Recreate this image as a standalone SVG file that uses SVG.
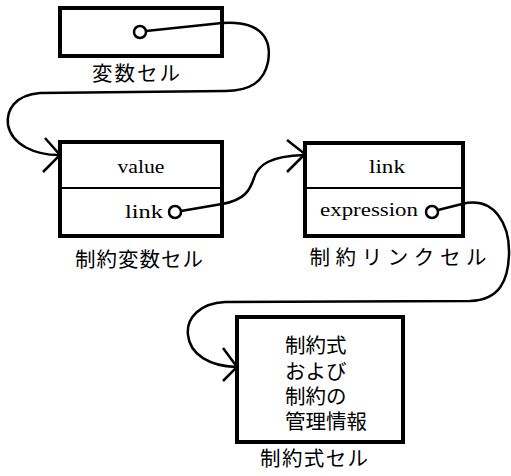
<svg xmlns="http://www.w3.org/2000/svg" width="511" height="476" viewBox="0 0 511 476">
<style>
.box{fill:#fff;stroke:#000;stroke-width:4}
.div{stroke:#000;stroke-width:2}
.lat{font-family:"Liberation Serif",serif;font-size:19.5px;fill:#000}
.jp{font-family:"Noto Sans CJK JP",sans-serif;font-size:20.5px;fill:#000}
.con{fill:none;stroke:#000;stroke-width:2.5}
.dot{fill:#fff;stroke:#000;stroke-width:2.5}
</style>
<rect width="511" height="476" fill="#fff"/>
<g id="var-cell">
<rect class="box" x="60" y="8" width="162" height="48"/>
<text class="jp" x="136" y="81" text-anchor="middle" textLength="88" lengthAdjust="spacing">変数セル</text>
</g>
<g id="constraint-var-cell">
<rect class="box" x="60" y="142" width="162" height="94"/>
<line class="div" x1="60" y1="188" x2="222" y2="188"/>
<text class="lat" x="141" y="173" text-anchor="middle" textLength="47" lengthAdjust="spacingAndGlyphs">value</text>
<text class="lat" x="125" y="218" textLength="38" lengthAdjust="spacingAndGlyphs">link</text>
<text class="jp" x="139" y="267" text-anchor="middle" textLength="128" lengthAdjust="spacing">制約変数セル</text>
</g>
<g id="constraint-link-cell">
<rect class="box" x="305" y="143" width="158" height="93"/>
<line class="div" x1="305" y1="188" x2="463" y2="188"/>
<text class="lat" x="387" y="173" text-anchor="middle" textLength="36" lengthAdjust="spacingAndGlyphs">link</text>
<text class="lat" x="320" y="216" textLength="98" lengthAdjust="spacingAndGlyphs">expression</text>
<text class="jp" x="398" y="265" text-anchor="middle" textLength="177" lengthAdjust="spacing">制約リンクセル</text>
</g>
<g id="constraint-expr-cell">
<rect class="box" x="237" y="317" width="166" height="125"/>
<text class="jp"><tspan x="285" y="353">制約式</tspan><tspan x="285" y="379">および</tspan><tspan x="285" y="404">制約の</tspan><tspan x="285" y="429">管理情報</tspan></text>
<text class="jp" x="314" y="466" text-anchor="middle" textLength="108" lengthAdjust="spacing">制約式セル</text>
</g>
<g id="connectors">
<path class="con" d="M146,31 L222,23 C262,20 272,40 268,62 C264,82 250,91 225,91 L40,93 C15,95 6,110 8,125 C12,145 35,155 59,155"/>
<polyline class="con" points="45,138 60,155 43,172" stroke-width="3.5"/>
<path class="con" d="M181,211 L222,204 C245,200 250,190 254,178 C258,165 270,156 304,155"/>
<polyline class="con" points="287,140 305,154 287,172" stroke-width="3.5"/>
<path class="con" d="M438,210 L462,204 C495,196 510,225 509,255 C508,280 500,300 470,301 L225,302 C200,303 186,318 188,335 C190,355 210,366 236,367"/>
<polyline class="con" points="223,348 237,367 223,381" stroke-width="3.5"/>
<circle class="dot" cx="140" cy="32" r="6"/>
<circle class="dot" cx="175" cy="212" r="6"/>
<circle class="dot" cx="432" cy="212" r="6"/>
</g>
</svg>
